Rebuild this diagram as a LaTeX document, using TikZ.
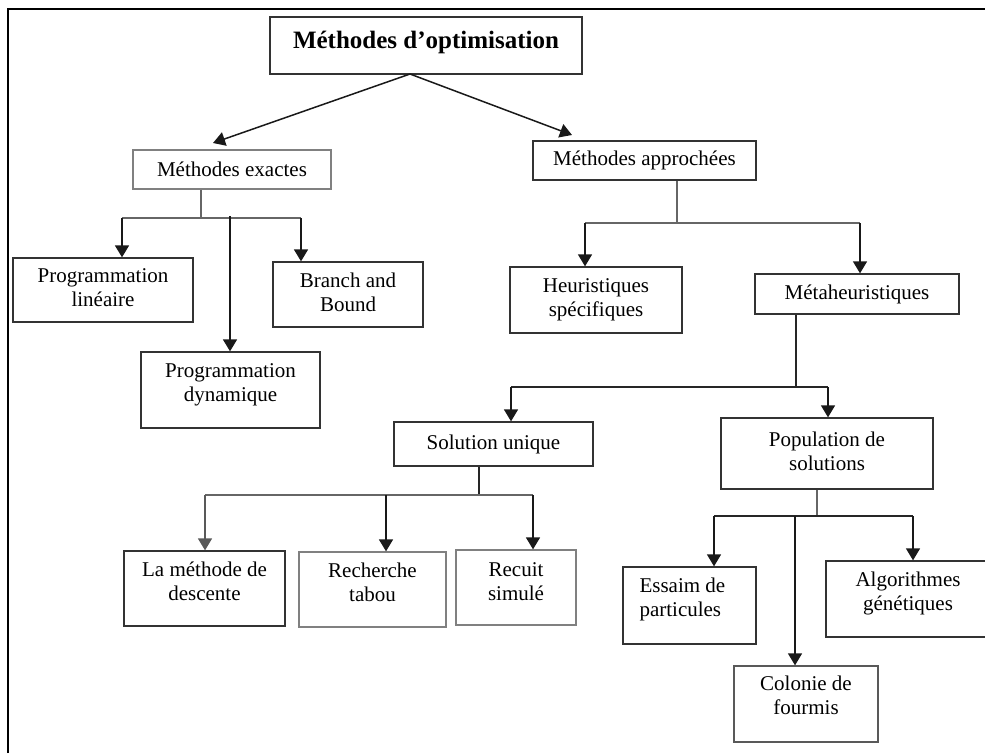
\documentclass[tikz,border=0pt]{standalone}
\usepackage{fontspec}
\setmainfont{Liberation Serif}
\usetikzlibrary{arrows.meta}
% two-line label; the optional argument adds depth below, lifting the text inside its box
\newcommand\boxtext[3][0pt]{\raisebox{0pt}[\height][\dimexpr\depth+#1\relax]{\begin{tabular}{@{}c@{}}#2\\#3\end{tabular}}}
\begin{document}
\begin{tikzpicture}[x=1pt,y=-1pt,
  box/.style={draw=black!80, line width=1.3pt, inner sep=0pt, align=center,
    font=\fontsize{21}{24}\selectfont, text=black},
  greybox/.style={box, draw=black!50},
  link/.style={draw=black!60, line width=1.5pt},
  arr/.style={draw=black!90, line width=1.5pt, -{Triangle[width=14pt,length=12pt]}},
  frameline/.style={line width=2.6pt, draw=black}]
\useasboundingbox (0,0) rectangle (985,753);
\clip (0,0) rectangle (985,753);

% outer frame (left and top edges)
\draw[frameline] (8,753) -- (8,9) -- (985,9);

% boxes
\node[box, minimum width=312, minimum height=57,
  font=\bfseries\fontsize{25}{28}\selectfont] (title) at (426,45.5)
  {\raisebox{0pt}[\height][\dimexpr\depth+6pt\relax]{Méthodes d’optimisation}};
\node[greybox, minimum width=198, minimum height=39] (mex) at (232,169.5) {Méthodes exactes};
\node[box, minimum width=223, minimum height=39] (map) at (644.5,160.5) {Méthodes approchées};
\node[box, minimum width=180, minimum height=64] (pl) at (103,290) {\boxtext{Programmation}{linéaire}};
\node[box, minimum width=150, minimum height=65] (bb) at (348,294.5) {\boxtext{Branch and}{Bound}};
\node[box, minimum width=179, minimum height=76] (pd) at (230.5,390) {\boxtext[10pt]{Programmation}{dynamique}};
\node[box, minimum width=172, minimum height=66] (hs) at (596,300) {\boxtext{Heuristiques}{spécifiques}};
\node[box, minimum width=204, minimum height=40] (meta) at (857,294) {Métaheuristiques};
\node[box, minimum width=199, minimum height=44] (su) at (493.5,444) {Solution unique};
\node[box, minimum width=212, minimum height=71] (ps) at (827,453.5) {\boxtext{Population de}{solutions}};
\node[box, minimum width=161, minimum height=75] (lmd) at (204.5,588.5) {\boxtext[10pt]{La méthode de}{descente}};
\node[greybox, minimum width=147, minimum height=75] (rt) at (372.5,589.5) {\boxtext[10pt]{Recherche}{tabou}};
\node[greybox, minimum width=120, minimum height=75] (rs) at (516,587.5) {\boxtext[8pt]{Recuit}{simulé}};
\node[box, minimum width=133, minimum height=77] (ep) at (689.5,605.5)
  {\makebox[\dimexpr 86pt+14pt\relax][l]{\raisebox{0pt}[\height][\dimexpr\depth+12pt\relax]{\begin{tabular}{@{}l@{}}Essaim de\\particules\end{tabular}}}};
\node[box, minimum width=164, minimum height=76] (ag) at (908,599) {\boxtext[10pt]{Algorithmes}{génétiques}};
\node[greybox, draw=black!65, minimum width=144, minimum height=76] (cf) at (806,704) {\boxtext[12pt]{Colonie de}{fourmis}};

% junction points of the connectors
\coordinate (t0) at (410,74);
\coordinate (exIn) at (213,143);
\coordinate (apIn) at (572,135);
\coordinate (ex) at (201,218);
\coordinate (exL) at (122,218);
\coordinate (exM) at (230,216);
\coordinate (exR) at (301,218);
\coordinate (ap) at (677,223);
\coordinate (apL) at (585,223);
\coordinate (apR) at (860,223);
\coordinate (me) at (796,387);
\coordinate (meL) at (511,387);
\coordinate (meR) at (828,387);
\coordinate (s0) at (479,495);
\coordinate (sL) at (205,495);
\coordinate (sM) at (386,495);
\coordinate (sR) at (533,495);
\coordinate (p0) at (817,516);
\coordinate (pL) at (714,516);
\coordinate (pM) at (795,516);
\coordinate (pR) at (913,516);

% root split
\draw[arr] (t0) -- (exIn);
\draw[arr] (t0) -- (apIn);

% exact methods
\draw[link] (mex.south -| ex) -- (ex);
\draw[link] (exL) -- (exR);
\draw[arr] (exL) -- (pl.north -| exL);
\draw[arr] (exM) -- (pd.north -| exM);
\draw[arr] (exR) -- (bb.north -| exR);

% approximate methods
\draw[link] (map.south -| ap) -- (ap);
\draw[link] (apL) -- (apR);
\draw[arr] (apL) -- (hs.north -| apL);
\draw[arr] (apR) -- (meta.north -| apR);

% metaheuristics
\draw[link, draw=black!85] (meta.south -| me) -- (me);
\draw[link, draw=black!85] (meL) -- (meR);
\draw[arr] (meL) -- (su.north -| meL);
\draw[arr] (meR) -- (ps.north -| meR);

% single-solution methods
\draw[link, draw=black!85] (su.south -| s0) -- (s0);
\draw[link] (sL) -- (sR);
\draw[arr, draw=black!65] (sL) -- (lmd.north -| sL);
\draw[arr] (sM) -- (rt.north -| sM);
\draw[arr] (sR) -- (rs.north -| sR);

% population-based methods
\draw[link] (ps.south -| p0) -- (p0);
\draw[link, draw=black!85] (pL) -- (pR);
\draw[arr] (pL) -- (ep.north -| pL);
\draw[arr] (pM) -- (cf.north -| pM);
\draw[arr] (pR) -- (ag.north -| pR);
\end{tikzpicture}
\end{document}
